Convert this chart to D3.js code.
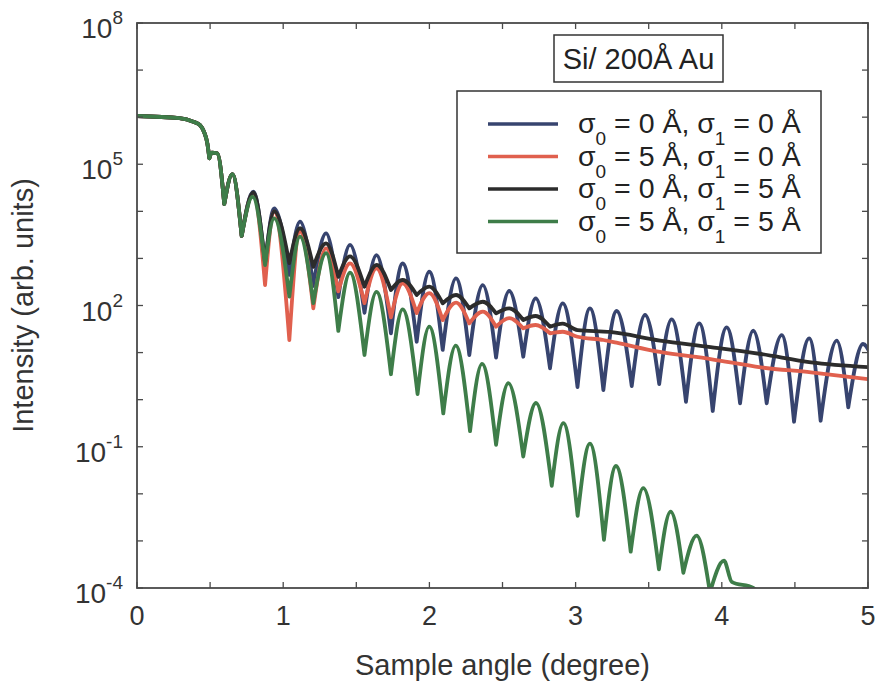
<!DOCTYPE html>
<html>
<head>
<meta charset="utf-8">
<script src="https://cdn.jsdelivr.net/npm/d3@7"></script>
<style>
  body { margin: 0; background: #fff; }
  svg { display: block; font-family: "Liberation Sans", Arial, sans-serif; }
</style>
</head>
<body>
<div id="chart"></div>
<script>
// shared low-angle part (total reflection + first fringes)
const lowAngle = [0, 0.29, 0.385, 0.431, 0.458, 0.481, 0.495, 0.511, 0.549, 0.597, 0.652, 0.716];
const lowI     = [1.06e6, 9.5e5, 8.0e5, 6.8e5, 4.9e5, 2.8e5, 1.34e5, 1.76e5, 1.71e5, 1.43e4, 6.2e4, 3.0e3];

// sigma0 = 0, sigma1 = 0
const blueAngle = [0.795, 0.876, 0.939, 1.042, 1.115, 1.206, 1.293, 1.377, 1.457, 1.556, 1.638, 1.737, 1.817, 1.913,
  1.999, 2.091, 2.182, 2.273, 2.365, 2.456, 2.546, 2.642, 2.727, 2.825, 2.912, 3.013, 3.098, 3.19, 3.281, 3.384,
  3.475, 3.572, 3.657, 3.755, 3.846, 3.938, 4.033, 4.125, 4.215, 4.307, 4.41, 4.494, 4.598, 4.676, 4.786, 4.865, 4.966, 5.02];
const blueI = [2.61e4, 708, 1.16e4, 447, 6.03e3, 260, 3.41e3, 150, 1.93e3, 70, 1.18e3, 25.7, 780, 17,
  521, 11.4, 378, 8.87, 272, 7.85, 203, 8.17, 142, 4.63, 111, 1.85, 87, 1.6, 76.4, 1.95,
  62.8, 2.15, 50.8, 0.9, 41.9, 0.575, 34.4, 0.836, 29.1, 0.836, 23.6, 0.34, 20.1, 0.357, 17.9, 0.687, 15.2, 9];

// sigma0 = 5, sigma1 = 0
const redAngle = [0.795, 0.876, 0.939, 1.042, 1.115, 1.206, 1.293, 1.377, 1.457, 1.556, 1.638, 1.737, 1.817, 1.913,
  1.999, 2.091, 2.182, 2.273, 2.365, 2.456, 2.546, 2.642, 2.727, 2.825, 2.912, 3.013, 3.19, 3.28, 3.577, 3.923,
  4.267, 4.61, 5.0];
const redI = [2.4e4, 272, 9.8e3, 18.5, 3.69e3, 87, 1.64e3, 200, 787, 112, 617, 56, 295, 69,
  184, 49, 115, 41.7, 74, 35.5, 53.7, 32.7, 38.5, 25.7, 27.7, 21.7, 18.5, 16.2, 10.3, 7.3,
  4.86, 3.8, 2.74];

// sigma0 = 0, sigma1 = 5
const blackAngle = [0.795, 0.876, 0.939, 1.042, 1.115, 1.206, 1.293, 1.377, 1.457, 1.556, 1.64, 1.737, 1.817, 1.913,
  1.999, 2.091, 2.182, 2.273, 2.365, 2.456, 2.546, 2.642, 2.727, 2.825, 2.912, 3.013, 3.235, 3.577, 3.923,
  4.267, 4.61, 5.0];
const blackI = [2.51e4, 794, 1.0e4, 794, 4.37e3, 661, 2.09e3, 407, 1.1e3, 251, 724, 213, 348, 167,
  251, 111, 167, 87, 120, 68.2, 87, 49.2, 59.8, 35.5, 41.4, 30.1, 27.4, 18.0, 13.1,
  9.33, 6.21, 4.93];

// sigma0 = 5, sigma1 = 5
const greenAngle = [0.791, 0.876, 0.939, 1.042, 1.115, 1.206, 1.293, 1.377, 1.457, 1.556, 1.638, 1.737, 1.817, 1.919,
  1.999, 2.095, 2.18, 2.278, 2.36, 2.456, 2.54, 2.642, 2.729, 2.837, 2.916, 3.014, 3.098, 3.194, 3.276, 3.377,
  3.463, 3.57, 3.65, 3.737, 3.828, 3.919, 4.015, 4.068, 4.215, 4.26];
const greenI = [2.04e4, 724, 7.1e3, 155, 2.9e3, 112, 1.29e3, 28.8, 501, 8.9, 195, 3.47, 83, 1.32,
  35.5, 0.51, 14.1, 0.214, 5.75, 0.11, 2.24, 0.062, 0.85, 0.0148, 0.316, 0.0034, 0.117, 1.05e-3, 0.039, 5.9e-4,
  0.0132, 2.5e-4, 4.2e-3, 2.1e-4, 1.29e-3, 8e-5, 3.8e-4, 1.35e-4, 1.0e-4, 8e-5];

const sigma0Names = ["0 Å", "5 Å", "0 Å", "5 Å"];
const sigma1Names = ["0 Å", "0 Å", "5 Å", "5 Å"];
const seriesColors = ["#37446f", "#e0604e", "#2c2c2c", "#3e7d49"];

const xTicks = [0, 0.5, 1, 1.5, 2, 2.5, 3, 3.5, 4, 4.5, 5];
const xLabels = [0, 1, 2, 3, 4, 5];
const yLabelExp = [8, 5, 2, -1, -4];

const width = 878, height = 692;
const m = { left: 137, top: 23, right: 10, bottom: 104 };
const W = width - m.left - m.right, H = height - m.top - m.bottom;

const svg = d3.select("#chart").append("svg")
  .attr("width", width).attr("height", height);

const x = d3.scaleLinear().domain([0, 5]).range([0, W]);
const y = d3.scaleLog().domain([1e-4, 1e8]).range([H, 0]);

const g = svg.append("g").attr("transform", `translate(${m.left},${m.top})`);

svg.append("defs").append("clipPath").attr("id", "clip")
  .append("rect").attr("width", W).attr("height", H);

const toPts = (a, v) => a.map((d, i) => ({ a: d, v: v[i] }));
const series = [
  toPts(lowAngle.concat(blueAngle), lowI.concat(blueI)),
  toPts(lowAngle.concat(redAngle), lowI.concat(redI)),
  toPts(lowAngle.concat(blackAngle), lowI.concat(blackI)),
  toPts(lowAngle.concat(greenAngle), lowI.concat(greenI))
];

const line = d3.line().x(d => x(d.a)).y(d => y(d.v)).curve(d3.curveMonotoneX);

// split at local minima so the fringe dips keep their sharp cusps
function fringePath(pts) {
  const segs = [];
  let cur = [pts[0]];
  for (let i = 1; i < pts.length; i++) {
    cur.push(pts[i]);
    if (i < pts.length - 1 && pts[i].v < pts[i - 1].v && pts[i].v < pts[i + 1].v) {
      segs.push(cur);
      cur = [pts[i]];
    }
  }
  segs.push(cur);
  return segs.map((s, i) => i ? line(s).replace(/^M/, "L") : line(s)).join("");
}

const plot = g.append("g").attr("clip-path", "url(#clip)");
series.forEach((s, i) => {
  plot.append("path")
    .attr("d", fringePath(s))
    .attr("fill", "none")
    .attr("stroke", seriesColors[i])
    .attr("stroke-width", 3.8)
    .attr("stroke-linejoin", "round")
    .attr("stroke-linecap", "round");
});

// frame + inner ticks
const frameColor = "#4a4a4a";
g.append("rect").attr("width", W).attr("height", H)
  .attr("fill", "none").attr("stroke", frameColor).attr("stroke-width", 1.8);

const tk = 6;
xTicks.forEach(t => {
  g.append("line").attr("x1", x(t)).attr("x2", x(t)).attr("y1", H).attr("y2", H - tk)
    .attr("stroke", frameColor).attr("stroke-width", 1.3);
  g.append("line").attr("x1", x(t)).attr("x2", x(t)).attr("y1", 0).attr("y2", tk)
    .attr("stroke", frameColor).attr("stroke-width", 1.3);
});
d3.range(-4, 9).forEach(e => {
  const yy = y(Math.pow(10, e));
  g.append("line").attr("x1", 0).attr("x2", tk).attr("y1", yy).attr("y2", yy)
    .attr("stroke", frameColor).attr("stroke-width", 1.3);
  g.append("line").attr("x1", W).attr("x2", W - tk).attr("y1", yy).attr("y2", yy)
    .attr("stroke", frameColor).attr("stroke-width", 1.3);
});

const labelColor = "#333";
xLabels.forEach(t => {
  g.append("text").attr("x", x(t)).attr("y", H + 37)
    .attr("text-anchor", "middle").attr("font-size", 27).attr("fill", labelColor)
    .text(t);
});
yLabelExp.forEach(e => {
  const t = g.append("text").attr("x", -14).attr("y", y(Math.pow(10, e)) + 15)
    .attr("text-anchor", "end").attr("font-size", 28).attr("fill", labelColor);
  t.append("tspan").text("10");
  t.append("tspan").attr("dy", -14).attr("font-size", 19).text(e);
});

svg.append("text").attr("x", m.left + W / 2).attr("y", 675)
  .attr("text-anchor", "middle").attr("font-size", 29).attr("fill", labelColor)
  .text("Sample angle (degree)");
svg.append("text").attr("transform", `translate(33,${m.top + H / 2}) rotate(-90)`)
  .attr("text-anchor", "middle").attr("font-size", 29).attr("fill", labelColor)
  .text("Intensity (arb. units)");

// title box
const tb = svg.append("g").attr("transform", "translate(554,35)");
tb.append("rect").attr("width", 169).attr("height", 47)
  .attr("fill", "#fff").attr("stroke", "#333").attr("stroke-width", 1.5);
tb.append("text").attr("x", 84.5).attr("y", 34).attr("text-anchor", "middle")
  .attr("font-size", 29).attr("fill", "#222").text("Si/ 200Å Au");

// legend
const lg = svg.append("g").attr("transform", "translate(457,91)");
lg.append("rect").attr("width", 364).attr("height", 162)
  .attr("fill", "#fff").attr("stroke", "#333").attr("stroke-width", 1.5);
sigma0Names.forEach((s0, i) => {
  const yy = 33 + i * 32.5;
  lg.append("line").attr("x1", 31).attr("x2", 101).attr("y1", yy).attr("y2", yy)
    .attr("stroke", seriesColors[i]).attr("stroke-width", 3.6);
  const t = lg.append("text").attr("x", 121).attr("y", yy + 9)
    .attr("font-size", 28.5).attr("fill", "#222");
  t.append("tspan").text("σ");
  t.append("tspan").attr("dy", 12).attr("font-size", 19).text("0");
  t.append("tspan").attr("dy", -12).text(" = " + s0 + ", σ");
  t.append("tspan").attr("dy", 12).attr("font-size", 19).text("1");
  t.append("tspan").attr("dy", -12).text(" = " + sigma1Names[i]);
});
</script>
</body>
</html>
